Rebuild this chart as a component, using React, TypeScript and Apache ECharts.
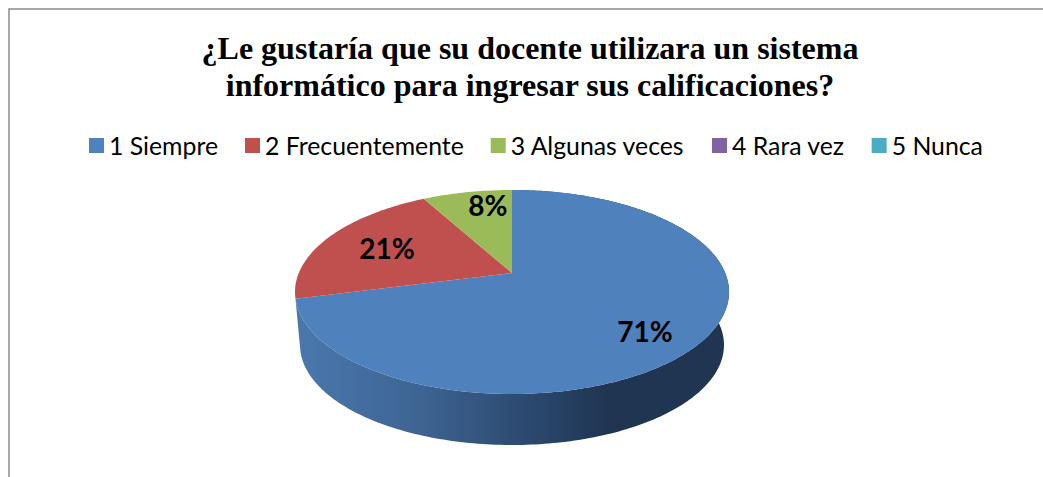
import React, { useEffect, useRef } from "react";
import * as echarts from "echarts";

const titleText = "¿Le gustaría que su docente utilizara un sistema\ninformático para ingresar sus calificaciones?";
const categories = ["1 Siempre", "2 Frecuentemente", "3 Algunas veces", "4 Rara vez", "5 Nunca"];
const percentages = [71, 21, 8, 0, 0];
const sliceColors = ["#4F81BD", "#C0504D", "#9BBB59", "#8064A2", "#4BACC6"];
const blueWallStops = [
  { offset: 0, color: "#4A78AE" },
  { offset: 0.3, color: "#3D6391" },
  { offset: 0.5, color: "#2E4D74" },
  { offset: 0.72, color: "#1F3552" },
  { offset: 1, color: "#1F3552" },
];
const wallColors: any[] = [blueWallStops, "#7A3331", "#657A3A", "#533F6B", "#2F7085"];
// Label anchors, as fractions of the ellipse radii from its centre (y upward).
const labelAnchors = [[0.613, -0.382], [-0.576, 0.432], [-0.111, 0.853], [0, 0], [0, 0]];

const TOP = { cx: 512, cy: 292, rx: 217, ry: 102 };
const BOTTOM = { cx: 512, cy: 345, rx: 212, ry: 100 };
const APEX_SHIFT = 0.186; // perspective: how far the pie's apex sits above the ellipse centre

function project(e: typeof TOP, angleDeg: number, r = 1): number[] {
  const t = (angleDeg * Math.PI) / 180;
  const x = r * Math.sin(t);
  const y = r * Math.cos(t);
  const a = APEX_SHIFT;
  const d = 1 + a * y;
  return [e.cx + (e.rx * x * Math.sqrt(1 - a * a)) / d, e.cy - (e.ry * (y + a)) / d];
}

function arc(e: typeof TOP, from: number, to: number): number[][] {
  const steps = Math.max(2, Math.ceil(Math.abs(to - from)));
  const pts: number[][] = [];
  for (let i = 0; i <= steps; i++) pts.push(project(e, from + ((to - from) * i) / steps));
  return pts;
}

const total = percentages.reduce((s, v) => s + v, 0);

function makeRenderItem(index: number) {
  return (_params: any, api: any) => {
    const value = api.value(0);
    if (!value) return { type: "group", children: [] };
    const before = percentages.slice(0, index).reduce((s, v) => s + v, 0);
    const from = (before / total) * 360;
    const to = ((before + value) / total) * 360;
    const mid = (from + to) / 2;
    const topArc = arc(TOP, from, to);
    const bottomArc = arc(BOTTOM, from, to).reverse();
    const wc = wallColors[index];
    const wallFill = Array.isArray(wc) ? { type: "linear", x: 0, y: 0, x2: 1, y2: 0, colorStops: wc } : wc;
    const [ax, ay] = labelAnchors[index];
    const children: any[] = [
      { type: "polygon", z2: 2, silent: true, shape: { points: [project(TOP, 0, 0), ...topArc] }, style: { fill: sliceColors[index] } },
      {
        type: "text",
        z2: 3,
        silent: true,
        x: TOP.cx + ax * TOP.rx,
        y: TOP.cy - ay * TOP.ry,
        style: {
          text: `${value}%`,
          fill: "#000000",
          fontFamily: "Lato",
          fontWeight: "bold",
          fontSize: 28,
          textAlign: "center",
          textVerticalAlign: "middle",
          verticalAlign: "middle",
        },
      },
    ];
    // Only slices facing the viewer show their outer wall.
    if (mid > 90 && mid < 270) {
      children.unshift({ type: "polygon", z2: 1, silent: true, shape: { points: [...topArc, ...bottomArc] }, style: { fill: wallFill } });
    }
    return { type: "group", children };
  };
}

export default function App() {
  const ref = useRef<HTMLDivElement>(null);
  useEffect(() => {
    const chart = echarts.init(ref.current!, undefined, { renderer: "svg" });
    chart.setOption({
      animation: false,
      backgroundColor: "#ffffff",
      title: {
        text: titleText,
        left: 525,
        top: 24,
        textAlign: "center",
        textStyle: { fontFamily: "Liberation Serif", fontWeight: "bold", fontSize: 32, lineHeight: 37, color: "#000000" },
      },
      legend: {
        data: categories,
        left: 84,
        top: 128,
        icon: "rect",
        itemWidth: 15,
        itemHeight: 15,
        itemGap: 27,
        textStyle: { fontFamily: "Lato", fontSize: 24.8, color: "#000000" },
      },
      graphic: [
        {
          type: "polyline",
          silent: true,
          shape: { points: [[9, 477], [9, 9], [1043, 9]] },
          style: { fill: "none", stroke: "#8C8C8C", lineWidth: 1.5 },
        },
      ],
      series: categories.map((name, i) => ({
        type: "custom",
        name,
        coordinateSystem: "none",
        itemStyle: { color: sliceColors[i] },
        data: [percentages[i]],
        renderItem: makeRenderItem(i),
      })),
    });
    return () => chart.dispose();
  }, []);
  return <div ref={ref} style={{ position: "fixed", left: 0, top: 0, width: 1043, height: 477 }} />;
}
